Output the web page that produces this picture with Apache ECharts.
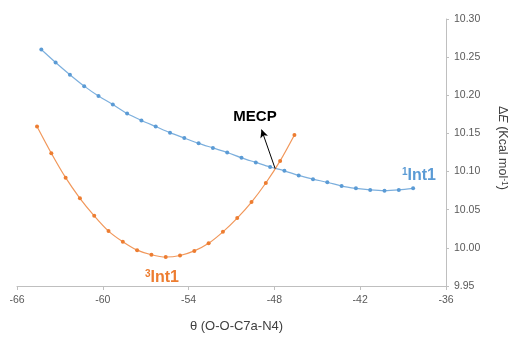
<!DOCTYPE html>
<html>
<head>
<meta charset="utf-8">
<script src="https://cdn.jsdelivr.net/npm/echarts@6/dist/echarts.min.js"></script>
<style>
  html, body { margin: 0; padding: 0; background: #fff; }
  #chart { width: 515px; height: 338px; }
</style>
</head>
<body>
<div id="chart"></div>
<script>
// 单重态 ¹Int1
const singletTheta = [-64.3, -63.3, -62.3, -61.3, -60.3, -59.3, -58.3, -57.3, -56.3, -55.3, -54.3, -53.3, -52.3, -51.3,
  -50.3, -49.3, -48.3, -47.3, -46.3, -45.3, -44.3, -43.3, -42.3, -41.3, -40.3, -39.3, -38.3];
const singletEnergy = [10.260, 10.243, 10.227, 10.212, 10.199, 10.188, 10.176, 10.167, 10.159, 10.151, 10.144, 10.137,
  10.131, 10.125, 10.118, 10.112, 10.106, 10.101, 10.095, 10.090, 10.086, 10.081, 10.078, 10.076, 10.075, 10.076, 10.078];

// 三重态 ³Int1
const tripletTheta = [-64.6, -63.6, -62.6, -61.6, -60.6, -59.6, -58.6, -57.6, -56.6, -55.6, -54.6, -53.6, -52.6,
  -51.6, -50.6, -49.6, -48.6, -47.6, -46.6];
const tripletEnergy = [10.159, 10.124, 10.092, 10.065, 10.042, 10.022, 10.008, 9.997, 9.991, 9.988, 9.990, 9.996,
  10.006, 10.021, 10.039, 10.060, 10.085, 10.114, 10.148];

// MECP 交叉点及箭头
const mecpPoint = [-47.95, 10.104];
const arrowTip = [-48.9, 10.155];

const xTicks = { min: -66, max: -36, interval: 6 };
const yTicks = { min: 9.95, max: 10.30, interval: 0.05 };

const blue = '#5B9BD5';
const orange = '#ED7D31';
const font = '"Liberation Sans", Arial, sans-serif';

const zip = (xs, ys) => xs.map((x, i) => [x, ys[i]]);

const chart = echarts.init(document.getElementById('chart'));

const option = {
  backgroundColor: '#fff',
  animation: false,
  textStyle: { fontFamily: font },
  grid: {
    left: 17,
    right: 69,
    top: 19,
    bottom: 47
  },
  xAxis: {
    type: 'value',
    min: xTicks.min,
    max: xTicks.max,
    interval: xTicks.interval,
    name: 'θ (O-O-C7a-N4)',
    nameLocation: 'middle',
    nameGap: 34,
    nameTextStyle: { color: '#404040', fontSize: 13, fontFamily: font, padding: [0, 0, 0, 10] },
    axisLine: { lineStyle: { color: '#BFBFBF', width: 1 } },
    axisTick: { show: true, length: 4, lineStyle: { color: '#BFBFBF' } },
    axisLabel: { color: '#595959', fontSize: 10.5, margin: 9 },
    splitLine: { show: false }
  },
  yAxis: {
    type: 'value',
    position: 'right',
    min: yTicks.min,
    max: yTicks.max,
    interval: yTicks.interval,
    axisLine: { show: true, lineStyle: { color: '#BFBFBF', width: 1 } },
    axisTick: { show: true, length: 3, lineStyle: { color: '#BFBFBF' } },
    axisLabel: {
      color: '#595959',
      fontSize: 10.5,
      margin: 8,
      formatter: (v) => v.toFixed(2)
    },
    splitLine: { show: false }
  },
  graphic: [
    {
      type: 'text',
      x: 502,
      y: 148,
      rotation: -Math.PI / 2,
      style: {
        text: '{n|Δ}{i|E}{n| (Kcal mol}{s|-1}{n|)}',
        align: 'center',
        verticalAlign: 'middle',
        rich: {
          n: { fontSize: 12.5, fill: '#404040', fontFamily: font, lineHeight: 14 },
          i: { fontSize: 12.5, fill: '#404040', fontFamily: font, fontStyle: 'italic', lineHeight: 14 },
          s: { fontSize: 8.5, fill: '#404040', fontFamily: font, verticalAlign: 'top', lineHeight: 9 }
        }
      }
    },
    {
      type: 'text',
      x: 255,
      y: 117,
      style: {
        text: 'MECP',
        align: 'center',
        verticalAlign: 'middle',
        fontSize: 15,
        fontWeight: 'bold',
        fontFamily: font,
        fill: '#000'
      }
    },
    {
      type: 'text',
      x: 419,
      y: 176,
      style: {
        text: '{s|1}{b|Int1}',
        align: 'center',
        verticalAlign: 'middle',
        rich: {
          b: { fontSize: 16, fontWeight: 'bold', fill: blue, fontFamily: font, lineHeight: 18 },
          s: { fontSize: 10, fontWeight: 'bold', fill: blue, fontFamily: font, verticalAlign: 'top', lineHeight: 10 }
        }
      }
    },
    {
      type: 'text',
      x: 162,
      y: 278,
      style: {
        text: '{s|3}{b|Int1}',
        align: 'center',
        verticalAlign: 'middle',
        rich: {
          b: { fontSize: 16, fontWeight: 'bold', fill: orange, fontFamily: font, lineHeight: 18 },
          s: { fontSize: 10, fontWeight: 'bold', fill: orange, fontFamily: font, verticalAlign: 'top', lineHeight: 10 }
        }
      }
    }
  ],
  series: [
    {
      name: '¹Int1',
      type: 'line',
      smooth: 0.3,
      data: zip(singletTheta, singletEnergy),
      symbol: 'circle',
      symbolSize: 4,
      itemStyle: { color: blue },
      lineStyle: { color: blue, width: 1.2, opacity: 0.8 },
      z: 3,
      markLine: {
        silent: true,
        symbol: ['none', 'arrow'],
        symbolSize: [6, 8],
        label: { show: false },
        lineStyle: { color: '#000', width: 1, type: 'solid' },
        data: [[{ coord: mecpPoint }, { coord: arrowTip }]]
      }
    },
    {
      name: '³Int1',
      type: 'line',
      smooth: 0.3,
      data: zip(tripletTheta, tripletEnergy),
      symbol: 'circle',
      symbolSize: 4,
      itemStyle: { color: orange },
      lineStyle: { color: orange, width: 1.2, opacity: 0.8 },
      z: 3
    }
  ]
};

chart.setOption(option);
window.addEventListener('resize', () => chart.resize());
</script>
</body>
</html>
